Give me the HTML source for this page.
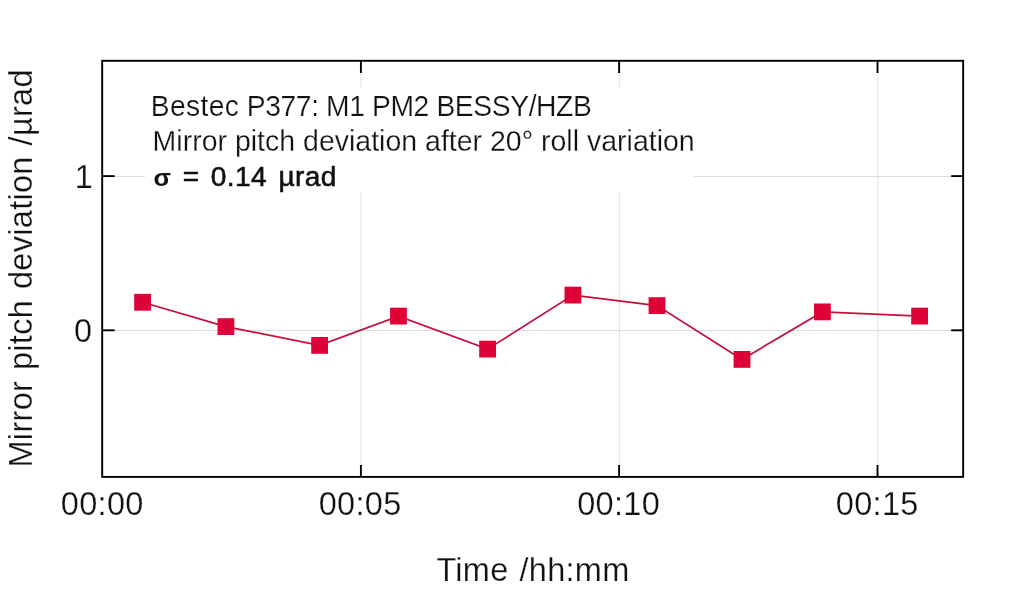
<!DOCTYPE html>
<html lang="en">
<head>
<meta charset="utf-8">
<title>Mirror pitch deviation</title>
<style>
html,body{margin:0;padding:0;background:#fff;}
body{width:1024px;height:589px;overflow:hidden;}
svg{display:block;}
text{font-family:"Liberation Sans",sans-serif;fill:#111;}
.thin{stroke:#fff;stroke-width:0.25px;paint-order:fill stroke;}
.big{font-size:32.5px;letter-spacing:0.3px;word-spacing:1.5px;}
.note{font-size:28.5px;}
</style>
</head>
<body>
<svg width="1024" height="589" viewBox="0 0 1024 589">
<rect x="0" y="0" width="1024" height="589" fill="#fff"/>
<!-- grid -->
<g stroke="#e7e7e7" stroke-width="1.3" fill="none">
<line x1="361" y1="61" x2="361" y2="476"/>
<line x1="619.4" y1="61" x2="619.4" y2="476"/>
<line x1="877.9" y1="61" x2="877.9" y2="476"/>
</g>
<g stroke="#dcdcdc" stroke-width="1" fill="none">
<line x1="103" y1="176.5" x2="963" y2="176.5"/>
<line x1="103" y1="330.5" x2="963" y2="330.5"/>
</g>
<!-- annotation box -->
<rect x="145" y="88" width="548.5" height="104" fill="#fff"/>
<!-- data -->
<polyline fill="none" stroke="#c20f3e" stroke-width="1.7" points="142.6,302.3 225.9,326.6 319.6,345.4 398.5,316.1 487.6,349.1 572.9,295.1 657,305.6 742,359.4 822.4,311.9 919.6,316.1"/>
<g fill="#de0239">
<rect x="134.2" y="293.9" width="16.8" height="16.8"/>
<rect x="217.5" y="318.2" width="16.8" height="16.8"/>
<rect x="311.2" y="337" width="16.8" height="16.8"/>
<rect x="390.1" y="307.7" width="16.8" height="16.8"/>
<rect x="479.2" y="340.7" width="16.8" height="16.8"/>
<rect x="564.5" y="286.7" width="16.8" height="16.8"/>
<rect x="648.6" y="297.2" width="16.8" height="16.8"/>
<rect x="733.6" y="351" width="16.8" height="16.8"/>
<rect x="814" y="303.5" width="16.8" height="16.8"/>
<rect x="911.2" y="307.7" width="16.8" height="16.8"/>
</g>
<!-- ticks -->
<g stroke="#000" stroke-width="1.9" fill="none">
<line x1="360.9" y1="61" x2="360.9" y2="73"/>
<line x1="619.1" y1="61" x2="619.1" y2="73"/>
<line x1="877.5" y1="61" x2="877.5" y2="73"/>
<line x1="360.9" y1="476.5" x2="360.9" y2="465"/>
<line x1="619.1" y1="476.5" x2="619.1" y2="465"/>
<line x1="877.5" y1="476.5" x2="877.5" y2="465"/>
<line x1="102.5" y1="176.1" x2="114.7" y2="176.1"/>
<line x1="102.5" y1="330.3" x2="114.7" y2="330.3"/>
<line x1="963" y1="176.1" x2="951.2" y2="176.1"/>
<line x1="963" y1="330.3" x2="951.2" y2="330.3"/>
</g>
<!-- frame -->
<rect x="102.2" y="60.8" width="860.95" height="416.1" fill="none" stroke="#000" stroke-width="1.9"/>
<!-- tick labels -->
<g class="big thin" text-anchor="middle">
<text x="102.25" y="515">00:00</text>
<text x="360.1" y="515">00:05</text>
<text x="618.6" y="515">00:10</text>
<text x="877.25" y="515">00:15</text>
</g>
<g class="big thin" text-anchor="end">
<text x="93.2" y="188.1">1</text>
<text x="92.3" y="342.3">0</text>
</g>
<!-- axis labels -->
<text class="big thin" x="533" y="580.75" text-anchor="middle">Time /hh:mm</text>
<text class="big thin" transform="translate(32 268.35) rotate(-90)" text-anchor="middle">Mirror pitch deviation /µrad</text>
<!-- annotation -->
<text class="note thin" transform="translate(150.7 115.9) scale(0.936 1)" style="font-size:30.2px;letter-spacing:-0.25px"><tspan style="letter-spacing:0.4px">Bestec</tspan><tspan style="letter-spacing:-0.42px"> P377: M1 PM2 BESSY/HZB</tspan></text>
<text class="note thin" transform="translate(152.6 150.5) scale(0.983 1)" style="font-size:29px">Mirror pitch deviation after 20° roll variation</text>
<text class="note" transform="translate(153.5 185.9) scale(1.04 1)" style="font-size:27px;letter-spacing:0.4px;word-spacing:3px;stroke:#111;stroke-width:0.55px"><tspan font-weight="bold" style="font-size:24.5px;stroke:none">σ</tspan> = 0.14 µrad</text>
</svg>
</body>
</html>
